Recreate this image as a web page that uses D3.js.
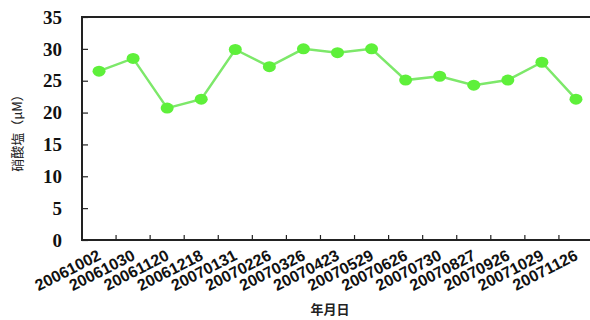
<!DOCTYPE html>
<html><head><meta charset="utf-8">
<script src="https://cdn.jsdelivr.net/npm/d3@7"></script>
<style>body{margin:0;background:#fff}svg{display:block}</style>
</head><body>
<script>
const dates = ["20061002","20061030","20061120","20061218","20070131","20070226","20070326","20070423","20070529","20070626","20070730","20070827","20070926","20071029","20071126"];
const nitrate = [26.5,28.5,20.7,22.1,29.9,27.2,30.0,29.4,30.0,25.1,25.7,24.3,25.1,27.9,22.1];
const yTicks = [0,5,10,15,20,25,30,35];
const yLabel = "硝酸塩（μM）";
const xLabel = "年月日";

(function(){
const W=590,H=320;
const svg=d3.select("body").append("svg").attr("width",W).attr("height",H);
const mL=82,mR=593,mT=17,mB=240;
const x=d3.scaleBand().domain(dates).range([mL,mR]);
const y=d3.scaleLinear().domain([0,35]).range([mB,mT]);

svg.append("rect").attr("x",mL).attr("y",mT).attr("width",mR-mL).attr("height",mB-mT)
  .attr("fill","none").attr("stroke","#222").attr("stroke-width",2);

const ya=svg.append("g").attr("transform",`translate(${mL},0)`)
  .call(d3.axisRight(y).tickValues(yTicks).tickSize(6).tickFormat(""));
ya.select(".domain").remove();
ya.selectAll("line").attr("stroke","#222").attr("stroke-width",1.2);
svg.selectAll(".ylab").data(yTicks).enter().append("text")
  .attr("x",62).attr("y",d=>y(d)).attr("dy","0.35em").attr("text-anchor","end")
  .attr("font-family","Liberation Serif, Times New Roman, serif").attr("font-weight","bold")
  .attr("font-size",19).attr("fill","#111").text(d=>d);

const bounds=dates.slice(1).map(d=>x(d));
svg.selectAll(".xt").data(bounds).enter().append("line")
  .attr("x1",d=>d).attr("x2",d=>d).attr("y1",mB).attr("y2",mB-5)
  .attr("stroke","#222").attr("stroke-width",1.2);

svg.selectAll(".xl").data(dates).enter().append("text")
  .attr("transform",d=>`translate(${x(d)+x.bandwidth()/2+3},259) rotate(-27)`)
  .attr("text-anchor","end")
  .attr("font-family","Liberation Sans, Arial, sans-serif").attr("font-weight","bold")
  .attr("font-size",16).attr("fill","#111").text(d=>d);

const line=d3.line().x((d,i)=>x(dates[i])+x.bandwidth()/2).y(d=>y(d));
svg.append("path").datum(nitrate).attr("d",line).attr("fill","none")
  .attr("stroke","#7de86a").attr("stroke-width",2.5);
svg.selectAll(".pt").data(nitrate).enter().append("ellipse")
  .attr("cx",(d,i)=>x(dates[i])+x.bandwidth()/2).attr("cy",d=>y(d))
  .attr("rx",6.5).attr("ry",5.5).attr("fill","#5ef03a");

svg.append("text").attr("transform","translate(22,130) rotate(-90)")
  .attr("text-anchor","middle").attr("font-family","Noto Sans CJK JP, sans-serif")
  .attr("font-size",13).attr("fill","#222").text(yLabel);
svg.append("text").attr("x",330).attr("y",314).attr("text-anchor","middle")
  .attr("font-family","Noto Sans CJK JP, sans-serif").attr("font-weight","bold")
  .attr("font-size",13).attr("fill","#222").text(xLabel);
})();
</script>
</body></html>
